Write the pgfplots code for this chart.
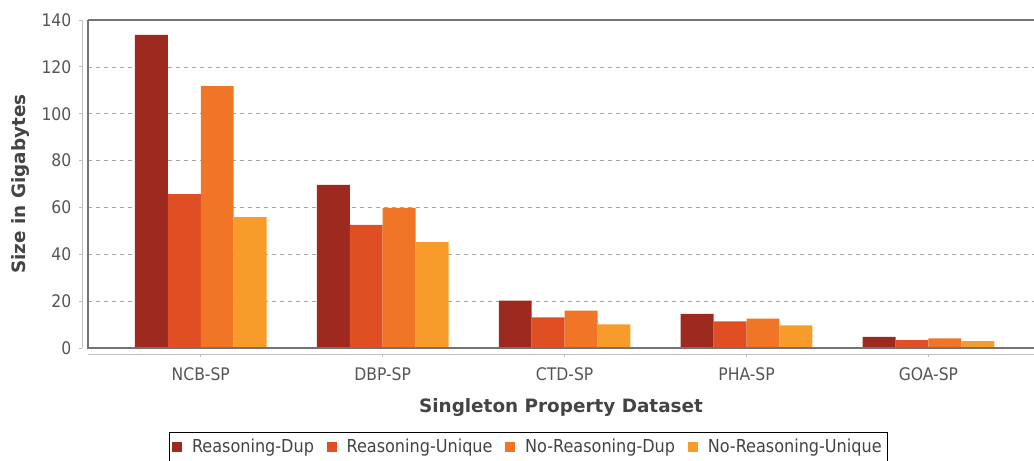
\documentclass[border=0pt]{standalone}
\usepackage{pgfplots}
\pgfplotsset{compat=1.18}
\usetikzlibrary{calc}
\usepackage{fontspec}
\setmainfont{DejaVu Sans Condensed}
\newfontfamily\labfont{DejaVu Sans}
\definecolor{cRD}{HTML}{9E2A1F}
\definecolor{cRU}{HTML}{E04F23}
\definecolor{cNRD}{HTML}{F07526}
\definecolor{cNRU}{HTML}{F79B2A}
\definecolor{tick}{HTML}{555555}
\definecolor{lab}{HTML}{444444}
\pgfplotstableread{
x RD RU NRD NRU
0 133.6 65.7 111.8 55.9
1 69.6 52.5 59.8 45.2
2 20.2 13.1 15.9 10.1
3 14.6 11.4 12.5 9.7
4 4.8 3.4 4.1 2.9
}\data
\begin{document}
\begin{tikzpicture}
\begin{axis}[
  scale only axis,
  width=709.5pt, height=246pt,
  ybar=0pt, bar width=0.181,
  xmin=-0.62, xmax=4.58,
  ymin=0, ymax=140,
  ytick={0,20,...,140},
  xtick=data,
  xticklabels={NCB-SP,DBP-SP,CTD-SP,PHA-SP,GOA-SP},
  /pgf/number format/assume math mode=true,
  axis line style={draw=none},
  major tick length=0pt,
  ymajorgrids,
  grid style={dashed, gray!70, line width=0.5pt},
  tick label style={font=\fontsize{13}{15}\selectfont, text=tick},
  yticklabel style={xshift=-9pt},
  xticklabel style={yshift=-11pt},
  xlabel={\textbf{Singleton Property Dataset}},
  ylabel={\textbf{Size in Gigabytes}},
  xlabel style={font=\labfont\fontsize{13.8}{15}\selectfont, text=lab, at={(rel axis cs:0.5,-0.14)}, anchor=north},
  ylabel style={font=\labfont\fontsize{13.8}{15}\selectfont, text=lab, at={(rel axis cs:-0.071,0.5)}, anchor=center},
  legend style={at={(rel axis cs:0.0856,-0.256)}, anchor=north west,
    legend columns=4, draw=black, line width=0.6pt,
    font=\fontsize{13.4}{15}\selectfont, text=lab,
    inner ysep=3pt, inner xsep=2pt,
    /tikz/every even column/.append style={column sep=7.5pt}},
  legend image code/.code={\fill[#1] (0pt,-3.8pt) rectangle (7.5pt,3.8pt); \path (13pt,0pt);},
  clip=false,
]
\addplot[fill=cRD, draw=none, bar shift=-0.2715] table[x=x,y=RD]{\data};
\addplot[fill=cRU, draw=none, bar shift=-0.0905] table[x=x,y=RU]{\data};
\addplot[fill=cNRD, draw=none, bar shift=0.0905] table[x=x,y=NRD]{\data};
\addplot[fill=cNRU, draw=none, bar shift=0.2715] table[x=x,y=NRU]{\data};
\legend{Reasoning-Dup,Reasoning-Unique,No-Reasoning-Dup,No-Reasoning-Unique}
\coordinate (LL) at (rel axis cs:0,0);
\coordinate (UR) at (rel axis cs:1,1);
\coordinate (UL) at (rel axis cs:0,1);
\coordinate (LR) at (rel axis cs:1,0);
\end{axis}
% frame lines
\draw[gray!90!black, line width=0.9pt] (UL) -- (LL) -- (LR);
\draw[gray!90!black, line width=1pt] (UL) -- (UR);
% detached y axis
\draw[gray!50, line width=0.6pt] ([xshift=-4.5pt]LL) -- ([xshift=-4.5pt]UL);
\foreach \i in {0,...,7} {
  \draw[gray!50, line width=0.6pt] ($(LL)!\i/7!(UL)+(-4.5pt,0)$) -- ++(-2.5pt,0);
}
% detached x axis
\draw[gray!50, line width=0.6pt] ([yshift=-4.5pt]LL) -- ([yshift=-4.5pt]LR);
\foreach \i in {0,...,4} {
  \draw[gray!50, line width=0.6pt] ($(LL)!{(\i+0.62)/5.2}!(LR)+(0,-4.5pt)$) -- ++(0,-2.5pt);
}
\pgfresetboundingbox
\path ([shift={(-66pt,-84pt)}]LL) rectangle ([shift={(0pt,15pt)}]UR);
\end{tikzpicture}
\end{document}
